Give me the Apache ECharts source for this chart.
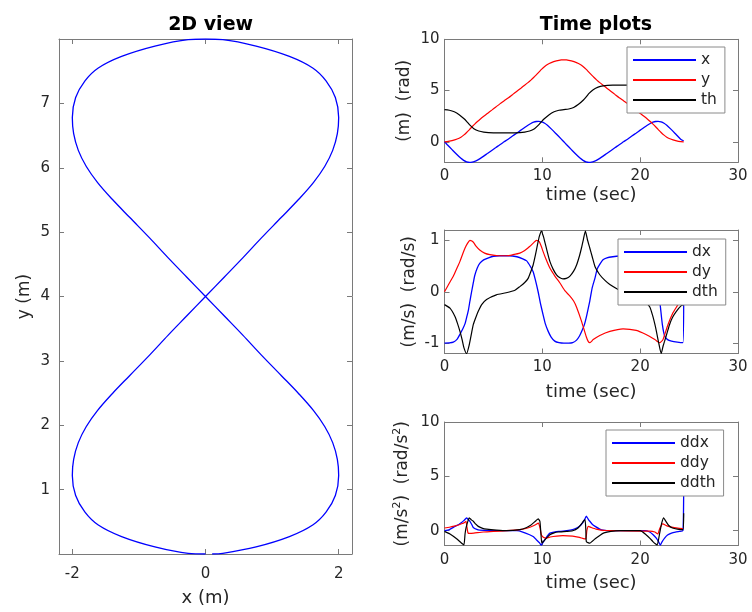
<!DOCTYPE html>
<html>
<head>
<meta charset="utf-8">
<script src="https://cdn.jsdelivr.net/npm/echarts@6/dist/echarts.min.js"></script>
<style>
  html, body { margin: 0; padding: 0; background: #ffffff; }
  #chart { width: 752px; height: 612px; }
</style>
</head>
<body>
<div id="chart"></div>
<script>
// ---- Figure-eight trajectory: time (s), x (m), y (m) ----
const posT = [0, 0.26, 0.77, 1.29, 1.68, 1.96, 2.26, 2.57, 2.82, 3.09, 3.37, 3.67, 4.01, 4.39, 4.83, 5.25, 5.66, 6.10,
  6.54, 6.95, 7.37, 7.81, 8.19, 8.53, 8.83, 9.11, 9.38, 9.63, 9.94, 10.24, 10.52, 10.91, 11.43, 11.94, 12.20,
  12.46, 12.97, 13.49, 13.88, 14.16, 14.46, 14.77, 15.02, 15.29, 15.57, 15.87, 16.21, 16.59, 17.03, 17.45, 17.86, 18.30,
  18.74, 19.15, 19.57, 20.01, 20.39, 20.73, 21.03, 21.31, 21.58, 21.83, 22.14, 22.44, 22.72, 23.11, 23.63, 24.14, 24.45];
const posX = [0, -0.26, -0.76, -1.26, -1.61, -1.81, -1.95, -2.00, -1.98, -1.91, -1.79, -1.62, -1.40, -1.14, -0.84, -0.56, -0.28, 0,
  0.28, 0.56, 0.84, 1.14, 1.40, 1.62, 1.79, 1.91, 1.98, 2.00, 1.95, 1.81, 1.61, 1.26, 0.76, 0.26, 0,
  -0.26, -0.76, -1.26, -1.61, -1.81, -1.95, -2.00, -1.98, -1.91, -1.79, -1.62, -1.40, -1.14, -0.84, -0.56, -0.28, 0,
  0.28, 0.56, 0.84, 1.14, 1.40, 1.62, 1.79, 1.91, 1.98, 2.00, 1.95, 1.81, 1.61, 1.26, 0.76, 0.26, 0.10];
const posY = [0, 0.01, 0.11, 0.27, 0.45, 0.65, 0.91, 1.22, 1.47, 1.73, 1.98, 2.23, 2.49, 2.77, 3.09, 3.40, 3.70, 4.00,
  4.30, 4.60, 4.91, 5.23, 5.51, 5.77, 6.02, 6.27, 6.53, 6.78, 7.09, 7.35, 7.55, 7.73, 7.89, 7.99, 8.00,
  7.99, 7.89, 7.73, 7.55, 7.35, 7.09, 6.78, 6.53, 6.27, 6.02, 5.77, 5.51, 5.23, 4.91, 4.60, 4.30, 4.00,
  3.70, 3.40, 3.09, 2.77, 2.49, 2.23, 1.98, 1.73, 1.47, 1.22, 0.91, 0.65, 0.45, 0.27, 0.11, 0.01, 0.00];

// ---- Heading (rad) ----
const thT = [0, 0.5, 1.0, 1.5, 2.0, 2.3, 2.6, 3.0, 3.5, 4.0, 5.0, 6.1, 7.2, 8.2, 8.7, 9.2, 9.6, 9.9, 10.2, 10.7, 11.2, 11.7, 12.2,
  12.7, 13.2, 13.7, 14.2, 14.5, 14.8, 15.2, 15.7, 16.2, 17.2, 18.3, 19.4, 20.4, 20.9, 21.4, 21.8, 22.1, 22.4, 22.9, 23.4, 23.9, 24.45];
const thV = [3.14, 3.08, 2.93, 2.65, 2.25, 1.95, 1.62, 1.28, 1.05, 0.95, 0.88, 0.87, 0.88, 0.95, 1.05, 1.28, 1.62, 1.95, 2.25, 2.65, 2.93, 3.08, 3.14,
  3.20, 3.35, 3.66, 4.08, 4.40, 4.75, 5.08, 5.33, 5.45, 5.52, 5.53, 5.52, 5.45, 5.33, 5.08, 4.75, 4.40, 4.08, 3.66, 3.35, 3.20, 3.14];

// ---- Velocities ----
const dxT = [0, 0.5, 0.9, 1.3, 1.6, 1.85, 2.1, 2.3, 2.45, 2.6, 2.77, 2.95, 3.1, 3.35, 3.6, 4.0, 4.5, 5.0, 5.6, 6.1,
  6.6, 7.4, 8.0, 8.4, 8.75, 9.06, 9.3, 9.57, 9.8, 10.08, 10.3, 10.6, 10.9, 11.27, 11.7, 12.2,
  12.7, 13.1, 13.5, 13.8, 14.05, 14.3, 14.55, 14.85, 15.1, 15.4, 15.6, 15.9, 16.2, 16.6, 17.2, 18.3,
  19.0, 19.8, 20.3, 20.8, 21.2, 21.5, 21.75, 21.95, 22.06, 22.27, 22.5, 22.8, 23.2, 23.8, 24.37, 24.45];
const dxV = [-1.00, -0.995, -0.98, -0.92, -0.82, -0.73, -0.62, -0.47, -0.35, -0.18, 0.00, 0.18, 0.32, 0.46, 0.55, 0.62, 0.66, 0.69, 0.70, 0.70,
  0.70, 0.68, 0.64, 0.60, 0.50, 0.39, 0.22, 0.00, -0.22, -0.45, -0.62, -0.77, -0.88, -0.96, -0.99, -1.00,
  -1.00, -0.99, -0.94, -0.86, -0.76, -0.64, -0.45, -0.18, 0.08, 0.28, 0.44, 0.54, 0.62, 0.66, 0.68, 0.70,
  0.70, 0.69, 0.66, 0.60, 0.48, 0.30, 0.08, -0.12, -0.28, -0.64, -0.86, -0.93, -0.96, -0.98, -0.99, 0.00];

const dyT = [0, 0.5, 0.9, 1.3, 1.58, 1.85, 2.1, 2.35, 2.6, 2.8, 3.0, 3.2, 3.6, 4.1, 4.64, 5.5, 6.35,
  7.0, 7.7, 8.2, 8.7, 9.1, 9.4, 9.55, 9.7, 9.9, 10.08, 10.4, 10.77, 11.3, 11.8, 12.3,
  12.8, 13.2, 13.5, 14.0, 14.5, 14.7, 14.85, 15.0, 15.2, 15.87, 16.9, 18.25,
  19.6, 20.6, 21.5, 21.8, 22.0, 22.15, 22.33, 22.84, 23.35, 23.86, 24.2, 24.45];
const dyV = [0.00, 0.17, 0.30, 0.47, 0.59, 0.73, 0.85, 0.94, 1.00, 0.985, 0.95, 0.89, 0.81, 0.75, 0.72, 0.70, 0.70,
  0.72, 0.75, 0.80, 0.88, 0.95, 1.00, 0.99, 0.97, 0.88, 0.78, 0.62, 0.46, 0.30, 0.17, 0.02,
  -0.08, -0.18, -0.30, -0.57, -0.88, -0.97, -0.99, -0.97, -0.93, -0.85, -0.77, -0.72,
  -0.75, -0.83, -0.93, -0.97, -0.99, -0.97, -0.93, -0.64, -0.41, -0.25, -0.12, -0.05];

const dthT = [0, 0.56, 1.07, 1.3, 1.58, 1.8, 1.99, 2.26, 2.53, 2.75, 2.94, 3.2, 3.45, 3.8, 4.3, 5.3, 6.3,
  7.2, 7.7, 8.2, 8.55, 8.8, 9.06, 9.3, 9.5, 9.7, 9.9, 10.1, 10.25, 10.5, 10.77, 11.1, 11.45, 11.8, 12.1,
  12.45, 12.8, 13.2, 13.5, 13.8, 14.0, 14.2, 14.4, 14.6, 14.85, 15.1, 15.4, 15.87, 16.4, 16.9, 17.7, 18.3,
  18.8, 19.5, 20.1, 20.6, 21.0, 21.3, 21.5, 21.65, 21.9, 22.15, 22.35, 22.5, 22.75, 23.0, 23.3, 23.7, 24.2, 24.45];
const dthV = [-0.25, -0.32, -0.48, -0.60, -0.77, -0.93, -1.09, -1.20, -1.03, -0.82, -0.64, -0.50, -0.38, -0.25, -0.15, -0.06, -0.02,
  0.03, 0.10, 0.18, 0.26, 0.38, 0.52, 0.72, 0.91, 1.08, 1.18, 1.08, 0.97, 0.78, 0.59, 0.44, 0.33, 0.27, 0.25,
  0.26, 0.30, 0.40, 0.52, 0.70, 0.85, 1.02, 1.18, 1.02, 0.85, 0.68, 0.48, 0.33, 0.22, 0.14, 0.05, 0.00,
  -0.01, -0.04, -0.10, -0.20, -0.30, -0.48, -0.63, -0.76, -1.00, -1.20, -1.05, -0.96, -0.80, -0.64, -0.50, -0.38, -0.27, -0.25];

// ---- Accelerations ----
const ddxT = [0, 0.5, 1.07, 1.5, 1.75, 2.0, 2.26, 2.4, 2.6, 2.8, 2.94, 3.3, 3.6, 4.6, 6.0, 7.4, 8.0, 8.7, 9.1, 9.4, 9.7, 9.9,
  10.05, 10.25, 10.5, 10.77, 11.3, 11.8, 12.5, 13.1, 13.5, 13.8, 14.1, 14.3, 14.5, 14.7, 14.85, 15.1, 15.4, 15.87, 16.2, 17.0,
  20.5, 20.97, 21.3, 21.65, 21.9, 22.06, 22.25, 22.5, 22.8, 23.2, 23.6, 24.0, 24.37, 24.45];
const ddxV = [0.00, 0.10, 0.40, 0.60, 0.75, 0.95, 1.18, 1.05, 0.87, 0.55, 0.30, 0.12, 0.06, 0.01, 0.00, 0.00, -0.12, -0.37, -0.55, -0.84, -1.10, -1.33,
  -1.10, -0.84, -0.50, -0.22, -0.10, -0.06, 0.00, 0.10, 0.25, 0.40, 0.70, 1.00, 1.33, 1.05, 0.87, 0.60, 0.40, 0.15, 0.05, 0.00,
  0.00, -0.12, -0.35, -0.68, -1.05, -1.33, -1.00, -0.68, -0.40, -0.22, -0.12, -0.06, 0.00, 4.00];

const ddyT = [0, 0.5, 1.0, 1.5, 1.9, 2.1, 2.2, 2.3, 2.4, 2.6, 3.0, 3.96, 5.0, 6.35, 7.7, 8.5, 9.2, 9.6, 9.75, 9.9,
  10.1, 10.4, 10.8, 11.1, 12.1, 13.1, 13.8, 14.2, 14.45, 14.55, 14.7, 15.0, 15.5, 16.0, 16.55, 17.5,
  21.0, 21.5, 21.8, 22.0, 22.3, 22.8, 23.5, 24.0, 24.37];
const ddyV = [0.25, 0.32, 0.42, 0.55, 0.68, 0.80, 0.85, 0.30, -0.20, -0.25, -0.22, -0.12, -0.06, 0.00, 0.10, 0.25, 0.50, 0.70, 0.30, -0.37,
  -0.60, -0.68, -0.58, -0.53, -0.45, -0.50, -0.62, -0.72, -0.75, 0.00, 0.40, 0.30, 0.15, 0.06, 0.02, 0.00,
  -0.03, -0.12, -0.30, 0.20, 0.62, 0.42, 0.28, 0.22, 0.19];

const ddthT = [0, 0.56, 1.24, 1.75, 1.99, 2.1, 2.2, 2.4, 2.53, 2.75, 2.94, 3.2, 3.45, 3.9, 4.3, 5.3, 6.35, 7.7, 8.4, 8.8, 9.06, 9.35, 9.57,
  9.75, 9.85, 9.95, 10.25, 10.77, 11.2, 11.6, 12.5, 13.1, 13.65, 14.0, 14.2, 14.37, 14.45, 14.5, 14.85, 15.4, 15.87, 16.3, 17.0, 18.0,
  20.0, 20.6, 21.0, 21.3, 21.55, 21.75, 22.0, 22.2, 22.4, 22.6, 22.9, 23.3, 23.8, 24.37, 24.45];
const ddthV = [-0.06, -0.30, -0.74, -1.15, -1.30, -0.30, 0.25, 0.90, 1.18, 1.00, 0.87, 0.60, 0.40, 0.22, 0.15, 0.06, 0.00, 0.10, 0.30, 0.50, 0.70, 0.92, 1.10,
  0.87, -0.20, -1.15, -0.84, -0.37, -0.20, -0.12, -0.06, 0.00, 0.25, 0.62, 0.87, 1.02, 0.00, -1.00, -1.15, -0.74, -0.43, -0.20, -0.06, 0.00,
  0.00, -0.37, -0.70, -1.00, -1.20, -1.30, -0.20, 0.70, 1.18, 0.90, 0.50, 0.25, 0.15, 0.10, 1.60];

// ---- Axis tick values ----
const pathXTicks = [-2, 0, 2];
const pathYTicks = [1, 2, 3, 4, 5, 6, 7];
const timeTicks = [0, 10, 20, 30];
const posTicks = [0, 5, 10];
const velTicks = [-1, 0, 1];
const accTicks = [0, 5, 10];

const FONT = 'DejaVu Sans';
const TXT = '#262626';
const FRAME = '#7a7a7a';
const BLUE = '#0000ff', RED = '#ff0000', BLACK = '#000000';

const zip = (a, b) => a.map((v, i) => [v, b[i]]);

// grids: 2D view on the left, three stacked time plots on the right
const grids = [
  { left: 59, top: 39, width: 293, height: 520 },
  { left: 444.5, top: 39.3, width: 293.5, height: 123 },
  { left: 444.5, top: 230, width: 293.5, height: 123.5 },
  { left: 444.5, top: 422, width: 293.5, height: 123.5 }
];

function frameAxis(extra) {
  return Object.assign({
    type: 'value',
    splitLine: { show: false },
    axisLine: { show: true, onZero: false, lineStyle: { color: FRAME, width: 1 } },
    axisTick: { show: true, inside: true, length: 5, lineStyle: { color: FRAME, width: 1 } },
    axisLabel: { show: true, color: TXT, fontFamily: FONT, fontSize: 15 },
    nameTextStyle: { color: TXT, fontFamily: FONT, fontSize: 17 }
  }, extra);
}

function ticksAt(values) {
  return { show: true, inside: true, length: 5, customValues: values, lineStyle: { color: FRAME, width: 1 } };
}

function xPair(gi, min, max, ticks, name, nameGap, labelMargin) {
  return [
    frameAxis({ gridIndex: gi, position: 'bottom', min, max, name, nameLocation: 'middle', nameGap,
      axisTick: ticksAt(ticks),
      axisLabel: { show: true, color: TXT, fontFamily: FONT, fontSize: 15, margin: labelMargin, customValues: ticks },
      nameTextStyle: { color: TXT, fontFamily: FONT, fontSize: 18 } }),
    frameAxis({ gridIndex: gi, position: 'top', min, max, axisTick: ticksAt(ticks), axisLabel: { show: false } })
  ];
}

function yPair(gi, min, max, ticks, name, nameGap, labelMargin) {
  return [
    frameAxis({ gridIndex: gi, position: 'left', min, max, name, nameLocation: 'middle', nameGap, nameRotate: 90,
      axisTick: ticksAt(ticks),
      axisLabel: { show: true, color: TXT, fontFamily: FONT, fontSize: 15, margin: labelMargin, customValues: ticks },
      nameTextStyle: { color: TXT, fontFamily: FONT, fontSize: 17,
        rich: {
          a: { color: TXT, fontFamily: FONT, fontSize: 17, lineHeight: 22 },
          s: { color: TXT, fontFamily: FONT, fontSize: 11, lineHeight: 22, verticalAlign: 'top' }
        } } }),
    frameAxis({ gridIndex: gi, position: 'right', min, max, axisTick: ticksAt(ticks), axisLabel: { show: false } })
  ];
}

const xAxes = [].concat(
  xPair(0, -2.2, 2.2, pathXTicks, 'x (m)', 35, 13),
  xPair(1, 0, 30, timeTicks, 'time (sec)', 24, 6),
  xPair(2, 0, 30, timeTicks, 'time (sec)', 30, 6),
  xPair(3, 0, 30, timeTicks, 'time (sec)', 29, 7)
);
const yAxes = [].concat(
  yPair(0, 0, 8, pathYTicks, 'y (m)', 26, 9),
  yPair(1, -2, 10, posTicks, '(m)  (rad)', 31, 5),
  yPair(2, -1.2, 1.2, velTicks, '(m/s)  (rad/s)', 26, 5),
  yPair(3, -1.36, 10, accTicks, '{a|(m/s}{s|2}{a|)  (rad/s}{s|2}{a|)}', 31, 5)
);

function line(name, gi, data, color, smooth, width) {
  return {
    name, type: 'line', xAxisIndex: gi * 2, yAxisIndex: gi * 2, data,
    symbol: 'none', smooth: smooth, animation: false,
    lineStyle: { color, width: width }, itemStyle: { color }
  };
}

const series = [
  line('path', 0, zip(posX, posY), BLUE, 0.35, 1.3),
  line('x', 1, zip(posT, posX), BLUE, 0.3, 1.3),
  line('y', 1, zip(posT, posY), RED, 0.3, 1.2),
  line('th', 1, zip(thT, thV), BLACK, 0.3, 1.2),
  line('dx', 2, zip(dxT, dxV), BLUE, 0.2, 1.3),
  line('dy', 2, zip(dyT, dyV), RED, 0.2, 1.2),
  line('dth', 2, zip(dthT, dthV), BLACK, 0.2, 1.2),
  line('ddx', 3, zip(ddxT, ddxV), BLUE, 0.15, 1.3),
  line('ddy', 3, zip(ddyT, ddyV), RED, 0.15, 1.2),
  line('ddth', 3, zip(ddthT, ddthV), BLACK, 0.15, 1.2)
];

function legendBox(names, left, top) {
  return {
    data: names, left, top, orient: 'vertical',
    icon: 'rect', itemWidth: 63, itemHeight: 1.8, itemGap: 0,
    padding: [3, 8, 3, 6],
    backgroundColor: '#ffffff', borderColor: '#8a8a8a', borderWidth: 1, borderRadius: 0,
    selectedMode: false,
    textStyle: { color: TXT, fontFamily: FONT, fontSize: 15.5, lineHeight: 20 }
  };
}

const chart = echarts.init(document.getElementById('chart'), null, { renderer: 'canvas' });
chart.setOption({
  animation: false,
  backgroundColor: '#ffffff',
  title: [
    { text: '2D view', left: 205.6, top: 11, textAlign: 'center',
      textStyle: { fontFamily: FONT, fontWeight: 'bold', fontSize: 19, color: '#000' } },
    { text: 'Time plots', left: 591, top: 11, textAlign: 'center',
      textStyle: { fontFamily: FONT, fontWeight: 'bold', fontSize: 19, color: '#000' } }
  ],
  grid: grids,
  xAxis: xAxes,
  yAxis: yAxes,
  legend: [
    legendBox(['x', 'y', 'th'], 627, 47),
    legendBox(['dx', 'dy', 'dth'], 618, 239),
    legendBox(['ddx', 'ddy', 'ddth'], 606, 430)
  ],
  series
});
</script>
</body>
</html>
